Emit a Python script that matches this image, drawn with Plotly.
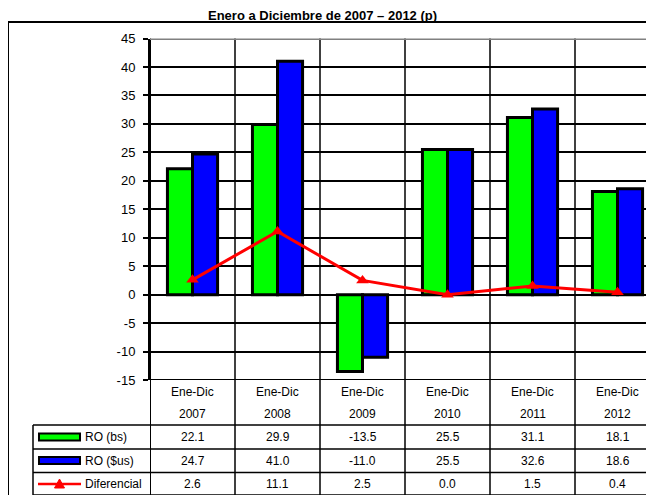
import plotly.graph_objects as go

# page body has an 8px margin; the figure is sized so the page does not overflow
W, H = 638, 487
OFF = 8

periods = ["Ene-Dic"] * 6
years = ["2007", "2008", "2009", "2010", "2011", "2012"]
ro_bs = [22.1, 29.9, -13.5, 25.5, 31.1, 18.1]
ro_us = [24.7, 41.0, -11.0, 25.5, 32.6, 18.6]
diferencial = [2.6, 11.1, 2.5, 0.0, 1.5, 0.4]
series_names = ["RO (bs)", "RO ($us)", "Diferencial"]
y_ticks = [-15, -10, -5, 0, 5, 10, 15, 20, 25, 30, 35, 40, 45]
title = "Enero a Diciembre de 2007 – 2012 (p)"

FONT = "Arial, Liberation Sans, sans-serif"
xs = list(range(len(years)))


def px(x):
    """reference-screen x pixel -> paper fraction"""
    return (x - OFF) / W


def py(y):
    """reference-screen y pixel -> paper fraction"""
    return 1 - (y - OFF) / H


fig = go.Figure()
fig.add_trace(go.Bar(x=xs, y=ro_bs, name=series_names[0],
                     marker=dict(color="#00FF00", line=dict(color="black", width=3))))
fig.add_trace(go.Bar(x=xs, y=ro_us, name=series_names[1],
                     marker=dict(color="#0000FF", line=dict(color="black", width=3))))
fig.add_trace(go.Scatter(x=xs, y=diferencial, name=series_names[2], mode="lines+markers",
                         line=dict(color="#FF0000", width=3),
                         marker=dict(symbol="triangle-up", size=11, color="#FF0000")))

shapes = []
# outer border
shapes.append(dict(type="rect", xref="paper", yref="paper", x0=px(8), x1=1.05, y0=-0.05, y1=py(22),
                   line=dict(color="black", width=2), fillcolor="rgba(0,0,0,0)", layer="below"))
# vertical category lines (plot + table)
for k in range(len(years) + 1):
    shapes.append(dict(type="line", xref="x", yref="paper", x0=k - 0.5, x1=k - 0.5, y0=py(496), y1=py(38.5),
                       line=dict(color="black", width=2 if k == 0 else 1.5), layer="below"))
# top gray line
shapes.append(dict(type="line", xref="paper", yref="y", x0=px(150), x1=1, y0=45, y1=45,
                   line=dict(color="#808080", width=3), layer="above"))
# bottom of plot
shapes.append(dict(type="line", xref="paper", yref="y", x0=px(146), x1=1, y0=-15, y1=-15,
                   line=dict(color="black", width=2), layer="above"))
# table horizontal lines
for yy in [425, 449, 472.5, 495]:
    shapes.append(dict(type="line", xref="paper", yref="paper", x0=px(33), x1=1, y0=py(yy), y1=py(yy),
                       line=dict(color="black", width=1.5), layer="below"))
shapes.append(dict(type="line", xref="paper", yref="paper", x0=px(33), x1=px(33), y0=py(495), y1=py(425),
                   line=dict(color="black", width=1.5), layer="below"))
# legend symbols in the table
row_y = [437, 460.5, 484]
shapes.append(dict(type="rect", xref="paper", yref="paper", x0=px(39), x1=px(80),
                   y0=py(row_y[0] + 3.5), y1=py(row_y[0] - 3.5),
                   line=dict(color="black", width=2), fillcolor="#00FF00"))
shapes.append(dict(type="rect", xref="paper", yref="paper", x0=px(39), x1=px(80),
                   y0=py(row_y[1] + 3.5), y1=py(row_y[1] - 3.5),
                   line=dict(color="black", width=2), fillcolor="#0000FF"))
shapes.append(dict(type="line", xref="paper", yref="paper", x0=px(38), x1=px(81), y0=py(row_y[2]), y1=py(row_y[2]),
                   line=dict(color="#FF0000", width=2.5)))
tx, ty = 59.5, row_y[2]
shapes.append(dict(type="path", xref="paper", yref="paper",
                   path=f"M {px(tx-5)} {py(ty+4)} L {px(tx+5)} {py(ty+4)} L {px(tx)} {py(ty-5)} Z",
                   fillcolor="#FF0000", line=dict(color="#FF0000", width=1)))

ann = []
ann.append(dict(text=f"<b>{title}</b>", x=px(322), y=py(15), xref="paper", yref="paper", showarrow=False,
                xanchor="center", yanchor="middle", font=dict(size=13, family=FONT, color="black")))
cell_font = dict(size=12, family=FONT, color="black")
for i in xs:
    ann.append(dict(text=periods[i], x=i, y=py(392), xref="x", yref="paper", showarrow=False,
                    xanchor="center", yanchor="middle", font=cell_font))
    ann.append(dict(text=years[i], x=i, y=py(414), xref="x", yref="paper", showarrow=False,
                    xanchor="center", yanchor="middle", font=cell_font))
    for vals, yy in zip([ro_bs, ro_us, diferencial], row_y):
        ann.append(dict(text=f"{vals[i]:.1f}", x=i, y=py(yy), xref="x", yref="paper", showarrow=False,
                        xanchor="center", yanchor="middle", font=cell_font))
for name, yy in zip(series_names, row_y):
    ann.append(dict(text=name, x=px(83), y=py(yy), xref="paper", yref="paper", showarrow=False,
                    xanchor="left", yanchor="middle", font=cell_font))

fig.update_layout(
    template="none",
    width=W, height=H, margin=dict(l=0, r=0, t=0, b=0, pad=0),
    paper_bgcolor="white", plot_bgcolor="rgba(0,0,0,0)",
    showlegend=False, barmode="group", bargap=0.41, bargroupgap=0,
    shapes=shapes, annotations=ann,
    xaxis=dict(domain=[px(150), 1], range=[-0.5, -0.5 + (OFF + W - 150) / 85], showticklabels=False,
               showgrid=False, zeroline=False, showline=False, ticks="", automargin=False),
    yaxis=dict(domain=[py(380), py(38.5)], range=[-15, 45], tickvals=y_ticks,
               ticktext=[str(v) for v in y_ticks], automargin=False,
               showgrid=True, gridcolor="black", gridwidth=1.5,
               zeroline=True, zerolinecolor="black", zerolinewidth=1.5,
               showline=True, linecolor="black", linewidth=2,
               ticks="outside", ticklen=5, tickwidth=1.5, tickcolor="black",
               ticklabelstandoff=5,
               tickfont=dict(size=13, family=FONT, color="black")),
)

fig.write_html("out.html")
